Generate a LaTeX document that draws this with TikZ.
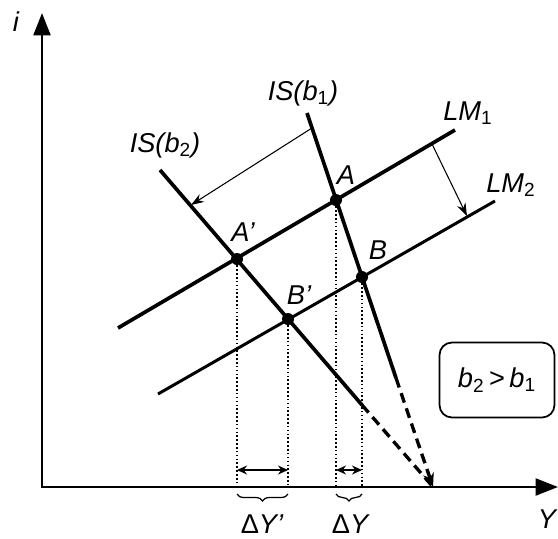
\documentclass[tikz,border=0pt]{standalone}
\usepackage{fontspec}
\setmainfont{Liberation Sans}
\usetikzlibrary{arrows.meta,decorations.pathreplacing}
\newcommand{\subsc}[1]{\textsubscript{\upshape #1}}
\tikzset{
  axis/.style={line width=1.4pt, {Triangle[length=4.5mm,width=3.4mm]}-{Triangle[length=4.5mm,width=3.4mm]}},
  curve/.style={line width=2.1pt},
  thincurve/.style={line width=1.7pt},
  ext/.style={line width=1.9pt, dash pattern=on 0.2cm off 0.12cm},
  moved/.style={-{Stealth[length=2.6mm,width=1.8mm]}, line width=0.6pt},
  span/.style={{Stealth[length=2mm,width=1.8mm]}-{Stealth[length=2mm,width=1.8mm]}, line width=0.8pt},
  guide/.style={line width=1pt, dash pattern=on 0.9pt off 1.3pt},
  brc/.style={decorate, decoration={brace, mirror, amplitude=4pt}, line width=0.7pt},
  dot/.style={circle, fill, inner sep=0pt, minimum size=2.4mm},
  lbl/.style={font=\fontsize{15.5}{17}\selectfont\itshape, inner sep=1pt},
}
\begin{document}
\begin{tikzpicture}[x=0.02cm, y=-0.02cm]
    \useasboundingbox (0,0) rectangle (558,538);
    % Axes
    \coordinate (O) at (42,487);
    \coordinate (ytop) at (42,13);
    \coordinate (xend) at (558,487);
    \draw[axis] (ytop) -- (O) -- (xend);
    \node[lbl] (ilbl) at (16,22) {i};
    \node[lbl] (Ylbl) at (547,519) {Y};
    % Equilibria
    \node[dot] (A) at (336,200) {};
    \node[dot] (Ap) at (237,259) {};
    \node[dot] (B) at (362,277) {};
    \node[dot] (Bp) at (288,319) {};
    % IS curves
    \coordinate (is1top) at (307,113);
    \coordinate (is1end) at (396,378);
    \coordinate (is2top) at (160,170);
    \coordinate (is2end) at (362,405);
    \coordinate (Z) at (433,487);
    \draw[curve] (is1top) -- (is1end);
    \draw[curve] (is2top) -- (is2end);
    \draw[ext, -{Stealth[length=2.8mm,width=2.2mm]}] (is1end) -- (Z);
    \draw[ext] (is2end) -- (Z);
    \node[lbl] (is1lbl) at (303,93) {IS(b\subsc{1})};
    \node[lbl] (is2lbl) at (165,145) {IS(b\subsc{2})};
    % LM curves
    \coordinate (lm1a) at (118,328);
    \coordinate (lm1b) at (455,130);
    \coordinate (lm2a) at (158,394);
    \coordinate (lm2b) at (495,201);
    \draw[curve] (lm1a) -- (lm1b);
    \draw[thincurve] (lm2a) -- (lm2b);
    \node[lbl] (lm1lbl) at (468,113) {LM\subsc{1}};
    \node[lbl] (lm2lbl) at (511,185) {LM\subsc{2}};
    % Shifts
    \coordinate (isfrom) at (312,128);
    \coordinate (isto) at (191,205);
    \coordinate (lmfrom) at (432,144);
    \coordinate (lmto) at (467,216);
    \draw[moved] (isfrom) -- (isto);
    \draw[moved] (lmfrom) -- (lmto);
    % Point labels
    \node[lbl] (Albl) at (346,175) {A};
    \node[lbl] (Aplbl) at (243,232) {A’};
    \node[lbl] (Blbl) at (378,250) {B};
    \node[lbl] (Bplbl) at (299,295) {B’};
    % Guides down to the Y axis
    \draw[guide] (A) -- (A |- O);
    \draw[guide] (Ap) -- (Ap |- O);
    \draw[guide] (B) -- (B |- O);
    \draw[guide] (Bp) -- (Bp |- O);
    \coordinate (dy) at (0,470);
    \draw[span] (Ap |- dy) -- (Bp |- dy);
    \draw[span] (A |- dy) -- (B |- dy);
    % Braces
    \coordinate (br) at (0,494);
    \draw[brc] (Ap |- br) -- (Bp |- br);
    \draw[brc] (A |- br) -- (B |- br);
    \node[lbl] (dY2) at (262,524) {{\upshape Δ}Y’};
    \node[lbl] (dY1) at (350,524) {{\upshape Δ}Y};
    % Condition
    \node[draw, rounded corners=2.5mm, line width=1pt, minimum width=2.3cm, minimum height=1.5cm, lbl] (cond) at (497,380) {b\subsc{2}\,{\upshape >}\,b\subsc{1}};
\end{tikzpicture}
\end{document}
